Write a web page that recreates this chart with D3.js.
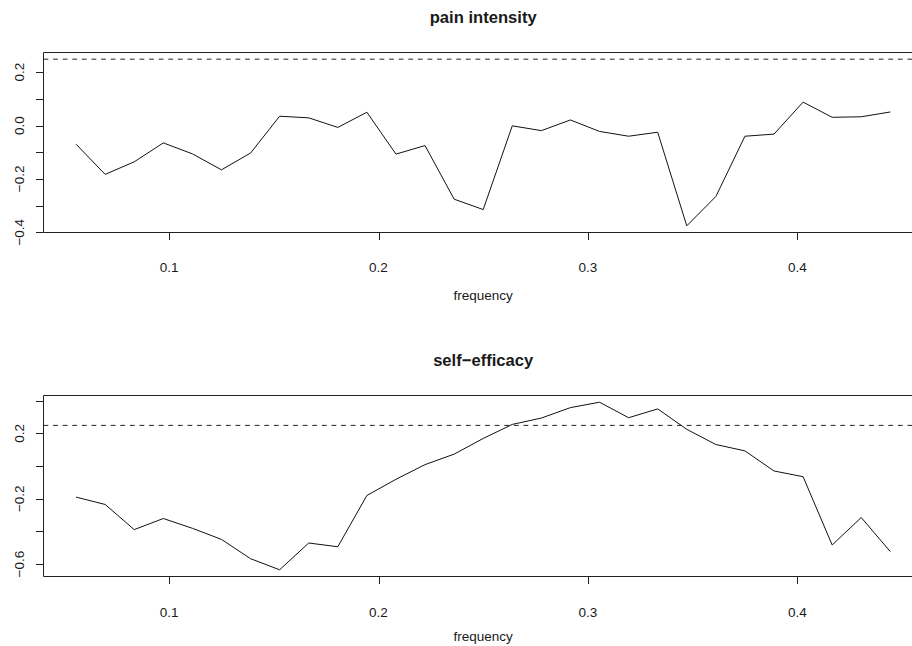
<!DOCTYPE html>
<html>
<head>
<meta charset="utf-8">
<script src="https://cdn.jsdelivr.net/npm/d3@7"></script>
<style>
  html, body { margin: 0; padding: 0; background: #fff; }
  svg { display: block; }
  text { font-family: "Liberation Sans", Arial, Helvetica, sans-serif; fill: #1a1a1a; }
</style>
</head>
<body>
<svg id="chart" width="912" height="646"></svg>
<script>
// Frequencies k/72 for k = 4..32
const frequency = [4,5,6,7,8,9,10,11,12,13,14,15,16,17,18,19,20,21,22,23,24,25,26,27,28,29,30,31,32].map(k => k / 72);

const painIntensity = [
  -0.070, -0.183, -0.136, -0.065, -0.106, -0.166, -0.103, 0.035, 0.029, -0.007,
   0.050, -0.107, -0.075, -0.276, -0.315, -0.001, -0.019, 0.021, -0.022, -0.040,
  -0.025, -0.376, -0.266, -0.040, -0.032, 0.088, 0.031, 0.033, 0.051
];

const selfEfficacy = [
  -0.190, -0.235, -0.389, -0.321, -0.381, -0.449, -0.567, -0.635, -0.471, -0.494,
  -0.180, -0.081, 0.009, 0.073, 0.169, 0.255, 0.294, 0.358, 0.391, 0.296,
   0.350, 0.225, 0.132, 0.093, -0.030, -0.065, -0.483, -0.315, -0.524
];

// Significance threshold drawn as a dashed reference line
const threshold = 0.249;

const xTicks = [0.1, 0.2, 0.3, 0.4];
const painYTicks = [-0.4, -0.3, -0.2, -0.1, 0.0, 0.1, 0.2];
const painYLabels = [-0.4, -0.2, 0.0, 0.2];
const selfYTicks = [-0.6, -0.4, -0.2, 0.0, 0.2, 0.4];
const selfYLabels = [-0.6, -0.2, 0.2];

const panels = [
  { title: "pain intensity", values: painIntensity, ylim: [d3.min(painIntensity), threshold],
    yTicks: painYTicks, yLabels: painYLabels, top: 52.5, bottom: 232.5,
    titleY: 23, tickLabelY: 272, xlabY: 300 },
  { title: "self\u2212efficacy", values: selfEfficacy, ylim: d3.extent(selfEfficacy),
    yTicks: selfYTicks, yLabels: selfYLabels, top: 395.5, bottom: 576.5,
    titleY: 366, tickLabelY: 617, xlabY: 641 }
];

const svg = d3.select("#chart");
const left = 43.5;
const right = 922.9;
const tickLen = 7.5;

// R-style 4% padding around the data range
function padded(lim) {
  const r = lim[1] - lim[0];
  return [lim[0] - 0.04 * r, lim[1] + 0.04 * r];
}

const xlim = padded(d3.extent(frequency));
const x = d3.scaleLinear().domain(xlim).range([left, right]);
const fmt = d => (Math.abs(d) < 1e-9 ? "0.0" : d3.format(".1f")(d).replace("-", "\u2212"));

panels.forEach(p => {
  const y = d3.scaleLinear().domain(padded(p.ylim)).range([p.bottom, p.top]);
  const g = svg.append("g");

  // Title
  g.append("text")
    .attr("x", (left + right) / 2)
    .attr("y", p.titleY)
    .attr("text-anchor", "middle")
    .style("font-weight", "bold")
    .style("font-size", "16.6px")
    .text(p.title);

  // Frame: left, top and bottom edges (right edge lies off the canvas)
  g.append("path")
    .attr("d", `M${right},${p.top}H${left}V${p.bottom}H${right}`)
    .attr("fill", "none")
    .attr("stroke", "#222")
    .attr("stroke-width", 1);

  // Dashed threshold
  g.append("line")
    .attr("x1", left).attr("x2", right)
    .attr("y1", y(threshold)).attr("y2", y(threshold))
    .attr("stroke", "#222")
    .attr("stroke-width", 1)
    .attr("stroke-dasharray", "4.8,4.8");

  // Series line
  const line = d3.line().x((d, i) => x(frequency[i])).y(d => y(d));
  g.append("path")
    .datum(p.values)
    .attr("d", line)
    .attr("fill", "none")
    .attr("stroke", "#111")
    .attr("stroke-width", 1);

  // X axis ticks and labels
  const xa = g.append("g");
  xa.selectAll("line").data(xTicks).join("line")
    .attr("x1", d => Math.round(x(d)) + 0.5).attr("x2", d => Math.round(x(d)) + 0.5)
    .attr("y1", p.bottom).attr("y2", p.bottom + tickLen)
    .attr("stroke", "#222");
  xa.selectAll("text").data(xTicks).join("text")
    .attr("x", d => x(d))
    .attr("y", p.tickLabelY)
    .attr("text-anchor", "middle")
    .style("font-size", "13.5px")
    .text(d => d3.format(".1f")(d));

  // X axis title
  g.append("text")
    .attr("x", (left + right) / 2)
    .attr("y", p.xlabY)
    .attr("text-anchor", "middle")
    .style("font-size", "13.5px")
    .text("frequency");

  // Y axis ticks and rotated labels
  const ya = g.append("g");
  ya.selectAll("line").data(p.yTicks).join("line")
    .attr("x1", left - tickLen).attr("x2", left)
    .attr("y1", d => Math.round(y(d)) + 0.5).attr("y2", d => Math.round(y(d)) + 0.5)
    .attr("stroke", "#222");
  ya.selectAll("text").data(p.yLabels).join("text")
    .attr("transform", d => `translate(24,${y(d)}) rotate(-90)`)
    .attr("text-anchor", "middle")
    .style("font-size", "13.5px")
    .text(fmt);
});
</script>
</body>
</html>
